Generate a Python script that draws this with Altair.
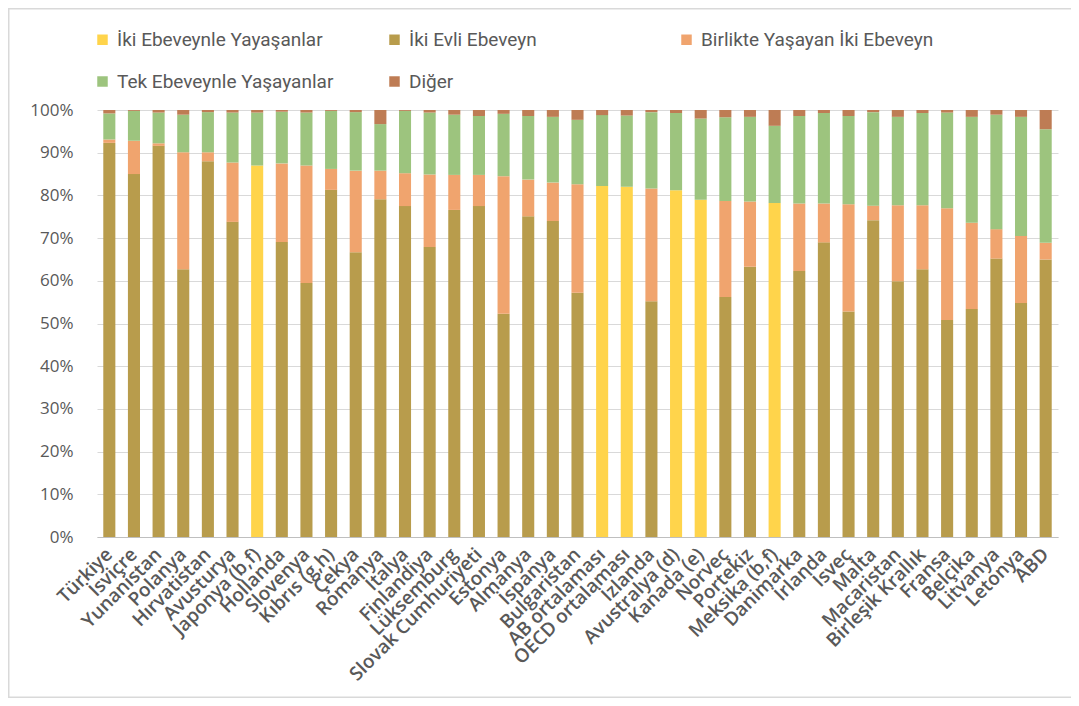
import altair as alt
import pandas as pd

countries = [
    "Türkiye", "İsviçre", "Yunanistan", "Polanya", "Hırvatistan", "Avusturya",
    "Japonya (b,f)", "Hollanda", "Slovenya", "Kıbrıs (g,h)", "Çekya", "Romanya",
    "İtalya", "Finlandiya", "Lüksemburg", "Slovak Cumhuriyeti", "Estonya",
    "Almanya", "İspanya", "Bulgaristan", "AB ortalaması", "OECD ortalaması",
    "İzlanda", "Avustralya (d)", "Kanada (e)", "Norveç", "Portekiz",
    "Meksika (b,f)", "Danimarka", "İrlanda", "İsveç", "Malta", "Macaristan",
    "Birleşik Krallık", "Fransa", "Belçika", "Litvanya", "Letonya", "ABD",
]

series_names = [
    "İki Ebeveynle Yayaşanlar",
    "İki Evli Ebeveyn",
    "Birlikte Yaşayan İki Ebeveyn",
    "Tek Ebeveynle Yaşayanlar",
    "Diğer",
]
series_colors = ["#FFD44B", "#B89C4C", "#F0A46E", "#9DC47E", "#BE7C54"]

iki_ebeveynle = [
    None, None, None, None, None, None, 87.0, None, None, None, None, None,
    None, None, None, None, None, None, None, None, 82.2, 82.0, None, 81.2,
    79.0, None, None, 78.2, None, None, None, None, None, None, None, None,
    None, None, None,
]
iki_evli = [
    92.3, 85.0, 91.6, 62.7, 88.0, 73.8, None, 69.1, 59.5, 81.3, 66.7, 79.1,
    77.5, 67.9, 76.6, 77.5, 52.3, 75.1, 74.0, 57.2, None, None, 55.2, None,
    None, 56.2, 63.3, None, 62.3, 69.0, 52.8, 74.2, 59.9, 62.7, 50.8, 53.4,
    65.2, 54.8, 65.0,
]
birlikte = [
    0.8, 7.8, 0.6, 27.4, 2.1, 13.9, None, 18.4, 27.5, 4.9, 19.1, 6.7,
    7.7, 17.0, 8.2, 7.3, 32.2, 8.6, 9.0, 25.4, None, None, 26.4, None,
    None, 22.5, 15.3, None, 15.8, 9.1, 25.1, 3.4, 17.8, 15.0, 26.2, 20.2,
    6.9, 15.7, 3.9,
]
tek_ebeveyn = [
    6.1, 7.0, 7.2, 8.8, 9.4, 11.7, 12.4, 12.1, 12.4, 13.6, 13.7, 10.9,
    14.6, 14.5, 14.1, 13.8, 14.6, 14.9, 15.4, 15.1, 16.6, 16.7, 17.9, 18.1,
    19.0, 19.6, 19.8, 18.1, 20.5, 21.2, 20.7, 21.9, 20.7, 21.6, 22.4, 24.8,
    26.8, 27.9, 26.6,
]
diger = [
    0.8, 0.2, 0.6, 1.1, 0.5, 0.6, 0.6, 0.4, 0.6, 0.2, 0.5, 3.3,
    0.2, 0.6, 1.1, 1.4, 0.9, 1.4, 1.6, 2.3, 1.2, 1.3, 0.5, 0.7,
    2.0, 1.7, 1.6, 3.7, 1.4, 0.7, 1.4, 0.5, 1.6, 0.7, 0.6, 1.6,
    1.1, 1.6, 4.5,
]
y_ticks = [0, 10, 20, 30, 40, 50, 60, 70, 80, 90, 100]

all_series = [iki_ebeveynle, iki_evli, birlikte, tek_ebeveyn, diger]
rows = []
for s_idx, (name, values) in enumerate(zip(series_names, all_series)):
    for c, v in zip(countries, values):
        if v is not None:
            rows.append({"Ülke": c, "Seri": name, "Değer": v, "Sıra": s_idx})
df = pd.DataFrame(rows)

PLOT_W, PLOT_H = 961, 427
PAD_L, PAD_T, PAD_R, PAD_B = 89, 102, 13, 161

font_axis = "Open Sans"
font_legend = "Roboto"

bars = alt.Chart(df).mark_bar(width={"band": 0.7}).encode(
    x=alt.X(
        "Ülke:N",
        sort=countries,
        scale=alt.Scale(paddingInner=0.3, paddingOuter=0.15),
        axis=alt.Axis(
            title=None, labelAngle=-45, labelAlign="right", labelBaseline="middle",
            labelFont=font_axis, labelFontSize=19, labelFontWeight=600,
            labelColor="#595959", labelPadding=14, ticks=False,
            domainColor="#BFBFBF", domainWidth=1, grid=False,
            labelOverlap=False, labelLimit=400,
        ),
    ),
    y=alt.Y(
        "Değer:Q",
        stack="zero",
        scale=alt.Scale(domain=[0, 100], nice=False),
        axis=alt.Axis(
            title=None, values=y_ticks, labelExpr="datum.value + '%'",
            labelFont=font_axis, labelFontSize=17, labelColor="#595959",
            labelPadding=24, ticks=False, domain=False,
            grid=True, gridColor="#D9D9D9", gridWidth=1,
        ),
    ),
    color=alt.Color(
        "Seri:N",
        scale=alt.Scale(domain=series_names, range=series_colors),
        legend=alt.Legend(
            title=None, orient="none", legendX=-4, legendY=-80,
            direction="horizontal", columns=3, gridAlign="all",
            columnPadding=35, rowPadding=22,
            symbolType="square", symbolSize=110, symbolStrokeWidth=0,
            labelFont=font_legend, labelFontSize=19, labelColor="#595959",
            labelOffset=5, labelLimit=500,
        ),
    ),
    order=alt.Order("Sıra:Q", sort="ascending"),
)

frame_df = pd.DataFrame({"k": [0]})
frame = alt.Chart(frame_df).mark_rect(
    fill="transparent", stroke="#D9D9D9", strokeWidth=1.5
).encode(
    x=alt.value(-PAD_L + 0.75),
    x2=alt.value(PLOT_W + PAD_R + 40),
    y=alt.value(-PAD_T + 0.75),
    y2=alt.value(PLOT_H + PAD_B - 0.75),
)

chart = alt.layer(bars, frame).properties(
    width=PLOT_W,
    height=PLOT_H,
    autosize=alt.AutoSizeParams(type="none"),
    padding={"left": PAD_L, "top": PAD_T, "right": PAD_R, "bottom": PAD_B},
    background="white",
).configure_view(stroke=None)

chart.save("out.html", embed_options={"renderer": "svg", "actions": False})
